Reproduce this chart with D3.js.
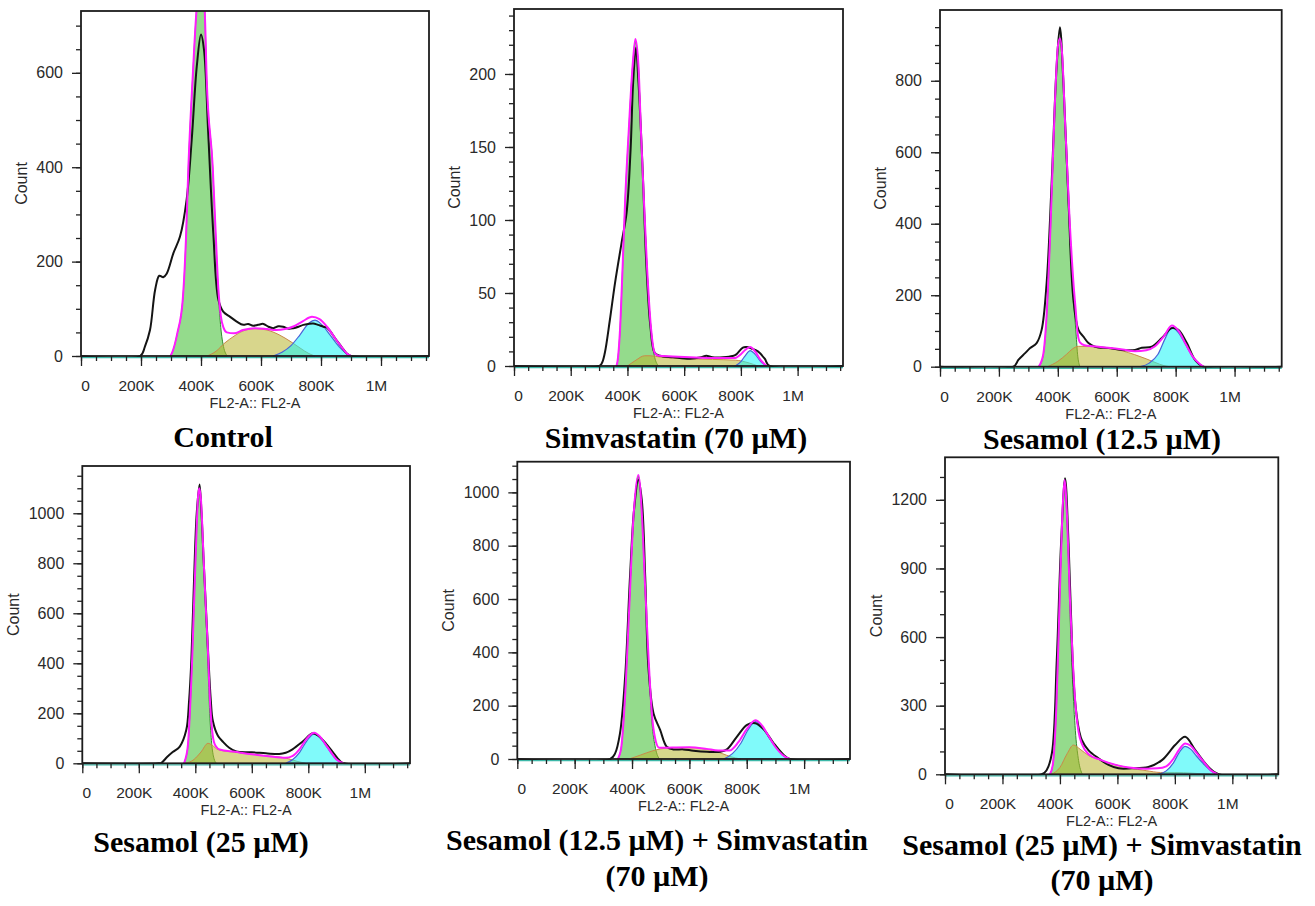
<!DOCTYPE html>
<html>
<head>
<meta charset="utf-8">
<title>Cell cycle histograms</title>
<script src="https://d3js.org/d3.v7.min.js"></script>
<style>
  body { margin: 0; background: #fff; }
  .tick text { font-family: "Liberation Sans", Arial, sans-serif; font-size: 16px; fill: #2a2a2a; }
  .x-ticks .tick text { font-size: 15.5px; }
  .axis-title { font-family: "Liberation Sans", Arial, sans-serif; font-size: 16px; fill: #2a2a2a; }
  .x-title { font-size: 14.5px; }
  .panel-title { font-family: "Liberation Serif", "Times New Roman", serif; font-weight: bold; font-size: 30px; fill: #000; }
</style>
</head>
<body>
<svg id="fig" width="1315" height="906"></svg>
<script>
// x values are FL2-A in thousands, y values are counts

const xTickValues = [0, 200, 400, 600, 800, 1000];
const xTickLabels = ["0", "200K", "400K", "600K", "800K", "1M"];
const xMax = 1160;

const titles = [
  ["Control"],
  ["Simvastatin (70 µM)"],
  ["Sesamol (12.5 µM)"],
  ["Sesamol (25 µM)"],
  ["Sesamol (12.5 µM) + Simvastatin", "(70 µM)"],
  ["Sesamol (25 µM) + Simvastatin", "(70 µM)"]
];

const yMaxes = [731, 244.5, 998, 1189, 1115, 1386];
const yMinorSteps = [50, 10, 50, 50, 50, 100];

const control_yticks = [0, 200, 400, 600];
const sim_yticks = [0, 50, 100, 150, 200];
const ses12_yticks = [0, 200, 400, 600, 800];
const ses25_yticks = [0, 200, 400, 600, 800, 1000];
const ses12sim_yticks = [0, 200, 400, 600, 800, 1000];
const ses25sim_yticks = [0, 300, 600, 900, 1200];

// Control
const control_raw = [[0,0],[197,0],[213,20],[230,55],[247,140],[261,170],[274,167],[286,175],[308,218],[330,253],[352,331],[369,458],[386,614],[400,681],[410,649],[424,473],[441,260],[458,119],[474,94],[497,83],[519,73],[541,66],[557,68],[574,64],[590,66],[608,68],[625,62],[641,59],[658,63],[674,62],[690,58],[708,59],[725,62],[741,66],[758,68],[774,69],[790,66],[808,62],[820,60],[850,35],[870,18],[885,6],[900,0],[1160,0]];
const control_g1 = [[298,0],[303,6],[321,48],[339,118],[350,250],[358,401],[372,587],[386,740],[395,790],[405,790],[412,740],[419,587],[439,401],[450,240],[458,130],[466,60],[475,20],[488,0]];
const control_s = [[420,0],[450,10],[480,28],[510,42],[540,53],[580,58],[620,55],[660,45],[700,30],[730,17],[760,5],[780,0]];
const control_g2 = [[640,0],[670,8],[700,22],[730,45],[760,70],[780,76],[800,68],[830,45],[860,20],[880,8],[900,0]];
const control_fit = [[298,0],[303,6],[321,48],[339,118],[350,250],[358,401],[372,587],[386,740],[395,790],[405,790],[412,740],[419,587],[439,401],[450,245],[458,140],[466,85],[475,60],[486,50],[510,48],[540,55],[580,59],[620,57],[650,55],[680,57],[710,63],[740,74],[770,83],[795,78],[820,62],[850,35],[870,18],[885,6],[900,0]];

// Simvastatin (70 µM)
const sim_raw = [[0,0],[300,0],[310,2],[320,8.7],[338,31.5],[356,56.6],[379,84],[397,105],[411,148],[420,194],[430,218],[439,194],[453,137],[467,68],[481,27],[496,9],[514,7],[561,6],[620,5],[660,6],[678,7],[700,6],[737,6],[771,6.8],[784,8],[807,12.6],[820,13],[837,12],[860,10],[884,5],[901,0],[1160,0]];
const sim_g1 = [[360,0],[364,2],[373,22],[383,68],[392,114],[404,159],[418,205],[428,222],[439,205],[448,159],[458,114],[469,68],[484,22],[496,6],[510,0]];
const sim_s = [[400,0],[430,4],[460,7],[480,7],[520,6],[600,5],[700,4.5],[780,4],[830,2],[860,0]];
const sim_g2 = [[780,0],[800,3],[815,7],[833,10.5],[850,8],[870,3],[890,0]];
const sim_fit = [[360,0],[364,2],[373,22],[383,68],[392,114],[404,159],[418,205],[428,224],[439,205],[448,159],[458,114],[469,68],[484,24],[496,9],[510,7],[560,6.5],[620,6],[700,5.5],[780,5.5],[800,8],[815,11],[833,13],[850,10],[870,4],[890,0]];

// Sesamol (12.5 µM)
const ses12_raw = [[0,0],[249,0],[266,19],[289,38],[306,52],[328,66],[345,103],[362,234],[379,515],[396,842],[407,950],[419,795],[436,468],[453,187],[470,103],[487,84],[504,66],[526,56],[572,52],[617,47],[662,47],[685,53],[719,56],[753,80],[787,108],[809,103],[838,66],[866,19],[894,0],[1160,0]];
const ses12_g1 = [[335,0],[350,30],[362,140],[375,380],[390,720],[400,880],[407,918],[415,860],[425,650],[440,380],[453,187],[461,103],[467,35],[475,0]];
const ses12_s = [[365,0],[400,15],[430,35],[450,50],[470,57],[520,56],[570,52],[620,44],[660,34],[700,22],[730,12],[760,3],[780,0]];
const ses12_g2 = [[680,0],[710,10],[740,35],[765,80],[787,110],[810,95],[835,60],[860,25],[880,8],[895,0]];
const ses12_fit = [[335,0],[350,32],[362,145],[375,390],[390,735],[400,895],[407,918],[415,870],[425,675],[440,410],[453,235],[461,155],[467,95],[475,68],[490,60],[520,57],[570,53],[620,48],[662,43],[700,46],[730,57],[760,85],[787,115],[810,100],[835,62],[860,26],[880,9],[895,0]];

// Sesamol (25 µM)
const ses25_raw = [[0,0],[270,0],[280,2],[300,25],[320,45],[345,67],[368,133],[378,250],[386,413],[396,750],[405,1000],[415,1115],[422,1000],[430,800],[441,546],[455,250],[462,170],[480,110],[497,87],[520,62],[545,47],[600,44],[650,40],[697,37],[720,42],[744,56],[780,87],[815,120],[835,110],[862,80],[890,40],[910,12],[925,0],[1160,0]];
const ses25_g1 = [[360,0],[364,13],[374,73],[389,413],[401,813],[410,1060],[414,1095],[420,1050],[429,813],[437,600],[444,413],[451,200],[458,80],[466,20],[475,0]];
const ses25_s = [[365,0],[395,15],[420,45],[445,80],[460,72],[480,55],[520,47],[580,40],[650,30],[700,25],[730,18],[760,8],[790,0]];
const ses25_g2 = [[720,0],[745,15],[770,45],[795,90],[821,118],[840,105],[860,75],[880,42],[900,15],[920,0]];
const ses25_fit = [[360,0],[364,13],[374,75],[389,420],[401,820],[410,1070],[414,1100],[420,1055],[429,830],[437,625],[444,470],[451,270],[458,150],[466,85],[475,65],[486,55],[540,46],[600,36],[660,28],[720,22],[745,30],[770,58],[795,100],[821,122],[840,108],[860,78],[880,45],[900,15],[925,0]];

// Sesamol (12.5 µM) + Simvastatin (70 µM)
const ses12sim_raw = [[0,0],[324,0],[341,21],[358,96],[376,309],[393,684],[407,934],[422,1047],[434,972],[446,684],[457,346],[475,171],[498,109],[521,46],[544,36],[579,36],[614,31],[661,27],[708,27],[731,36],[766,84],[801,128],[830,134],[859,111],[894,59],[929,15],[950,0],[1160,0]];
const ses12sim_g1 = [[350,0],[362,40],[375,220],[390,560],[405,900],[422,1060],[435,900],[445,650],[458,350],[470,130],[480,50],[495,0]];
const ses12sim_s = [[390,0],[430,15],[470,30],[500,38],[560,43],[620,42],[660,36],[700,26],[730,14],[760,4],[780,0]];
const ses12sim_g2 = [[720,0],[750,20],[780,60],[805,110],[830,140],[850,125],[875,85],[900,45],[925,15],[950,0]];
const ses12sim_fit = [[350,0],[362,40],[375,220],[390,560],[405,905],[422,1065],[435,905],[445,660],[458,370],[470,160],[480,80],[495,42],[540,43],[600,44],[660,38],[700,32],[740,32],[770,62],[800,112],[830,145],[850,130],[875,88],[900,45],[925,15],[950,0]];

// Sesamol (25 µM) + Simvastatin (70 µM)
const ses25sim_raw = [[0,0],[337,0],[354,19],[372,92],[389,500],[404,1010],[418,1294],[430,1010],[444,500],[452,330],[459,250],[467,190],[476,150],[499,106],[534,70],[569,41],[604,26],[650,26],[708,32],[755,62],[801,128],[836,164],[871,106],[917,32],[952,0],[1160,0]];
const ses25sim_g1 = [[365,0],[375,40],[388,300],[398,700],[408,1100],[416,1280],[425,1100],[435,700],[445,380],[455,170],[465,60],[478,0]];
const ses25sim_s = [[370,0],[400,30],[425,90],[447,128],[470,110],[500,82],[535,65],[570,50],[605,38],[640,28],[700,16],[750,8],[800,8],[860,5],[920,0]];
const ses25sim_g2 = [[740,0],[770,15],[795,50],[815,95],[836,122],[855,110],[875,80],[900,45],[925,15],[948,0]];
const ses25sim_fit = [[365,0],[375,40],[388,310],[398,720],[408,1120],[416,1287],[425,1120],[435,760],[445,490],[455,290],[465,185],[478,128],[500,88],[535,66],[570,50],[605,38],[640,30],[700,24],[740,26],[770,35],[795,68],[815,108],[836,135],[855,125],[875,95],[900,55],[925,18],[950,0]];

// plot boxes on the page (left, top, right, zero line)
const boxes = [
  {x0: 81,    y0: 11,    x1: 429,    y1: 356},
  {x0: 514,   y0: 9,     x1: 843,    y1: 366},
  {x0: 940,   y0: 10,    x1: 1281.7, y1: 366.7},
  {x0: 82.3,  y0: 466,   x1: 410,    y1: 763.3},
  {x0: 517.3, y0: 461.7, x1: 850,    y1: 759},
  {x0: 945,   y0: 457.3, x1: 1278.3, y1: 774.3}
];
// title centre and baselines
const titlePos = [
  {x: 223,  y: [447]},
  {x: 676,  y: [448]},
  {x: 1102, y: [449]},
  {x: 201,  y: [852]},
  {x: 657,  y: [850, 886]},
  {x: 1102, y: [855, 890]}
];

const panels = [
  {raw: control_raw,  g1: control_g1,  s: control_s,  g2: control_g2,  fit: control_fit,  yticks: control_yticks},
  {raw: sim_raw,      g1: sim_g1,      s: sim_s,      g2: sim_g2,      fit: sim_fit,      yticks: sim_yticks},
  {raw: ses12_raw,    g1: ses12_g1,    s: ses12_s,    g2: ses12_g2,    fit: ses12_fit,    yticks: ses12_yticks},
  {raw: ses25_raw,    g1: ses25_g1,    s: ses25_s,    g2: ses25_g2,    fit: ses25_fit,    yticks: ses25_yticks},
  {raw: ses12sim_raw, g1: ses12sim_g1, s: ses12sim_s, g2: ses12sim_g2, fit: ses12sim_fit, yticks: ses12sim_yticks},
  {raw: ses25sim_raw, g1: ses25sim_g1, s: ses25sim_s, g2: ses25sim_g2, fit: ses25sim_fit, yticks: ses25sim_yticks}
];

const svg = d3.select("#fig");

panels.forEach((p, i) => {
  const b = boxes[i];
  const yMax = yMaxes[i];
  const x = d3.scaleLinear().domain([0, xMax]).range([b.x0, b.x1]);
  const y = d3.scaleLinear().domain([0, yMax]).range([b.y1, b.y0]);
  const g = svg.append("g");

  g.append("clipPath").attr("id", "clip" + i).append("rect")
    .attr("x", b.x0).attr("y", b.y0)
    .attr("width", b.x1 - b.x0).attr("height", b.y1 - b.y0 + 1);

  const plot = g.append("g").attr("clip-path", `url(#clip${i})`);

  const area = d3.area().x(d => x(d[0])).y0(y(0)).y1(d => y(d[1])).curve(d3.curveMonotoneX);
  const line = d3.line().x(d => x(d[0])).y(d => y(d[1])).curve(d3.curveMonotoneX);
  const rawLine = d3.line().x(d => x(d[0])).y(d => y(d[1])).curve(d3.curveCatmullRom.alpha(0.5));

  // G1, S and G2 model components
  plot.append("path").datum(p.g1).attr("d", area)
    .attr("fill", "#3cbe2d").attr("fill-opacity", 0.55)
    .attr("stroke", "#2e8b2e").attr("stroke-width", 1);
  plot.append("path").datum(p.s).attr("d", area)
    .attr("fill", "#b8b42e").attr("fill-opacity", 0.55)
    .attr("stroke", "#c98a4a").attr("stroke-width", 1);
  plot.append("path").datum(p.g2).attr("d", area)
    .attr("fill", "#18f6f6").attr("fill-opacity", 0.55)
    .attr("stroke", "#4a62d8").attr("stroke-width", 1.2);

  // raw histogram then the fitted sum on top
  plot.append("path").datum(p.raw).attr("d", rawLine)
    .attr("fill", "none").attr("stroke", "#141414").attr("stroke-width", 2);
  plot.append("path").datum(p.fit).attr("d", line)
    .attr("fill", "none").attr("stroke", "#ff1cff").attr("stroke-width", 2);

  // teal baseline just under the box
  g.append("line")
    .attr("x1", b.x0).attr("x2", b.x1)
    .attr("y1", b.y1 + 1.6).attr("y2", b.y1 + 1.6)
    .attr("stroke", "#3cb8a8").attr("stroke-width", 1.4);

  // box
  g.append("rect")
    .attr("x", b.x0).attr("y", b.y0)
    .attr("width", b.x1 - b.x0).attr("height", b.y1 - b.y0)
    .attr("fill", "none").attr("stroke", "#1c1c1c").attr("stroke-width", 1.8);

  // y axis: minor then major
  const yMinor = d3.range(0, yMax + 0.001, yMinorSteps[i]);
  g.append("g").attr("transform", `translate(${b.x0},0)`)
    .call(d3.axisLeft(y).tickValues(yMinor).tickSize(5).tickFormat(""))
    .call(a => a.select(".domain").remove())
    .call(a => a.selectAll("line").attr("stroke", "#222").attr("stroke-width", 1.3));
  const yAx = g.append("g").attr("transform", `translate(${b.x0},0)`)
    .call(d3.axisLeft(y).tickValues(p.yticks).tickSize(9).tickPadding(9).tickFormat(d3.format("d")))
    .call(a => a.select(".domain").remove())
    .call(a => a.selectAll("line").attr("stroke", "#222").attr("stroke-width", 1.3));

  // x axis: minor then major
  const xMinor = d3.range(0, xMax + 0.001, 50);
  g.append("g").attr("transform", `translate(0,${b.y1})`)
    .call(d3.axisBottom(x).tickValues(xMinor).tickSize(5).tickFormat(""))
    .call(a => a.select(".domain").remove())
    .call(a => a.selectAll("line").attr("stroke", "#222").attr("stroke-width", 1.3));
  g.append("g").attr("class", "x-ticks").attr("transform", `translate(0,${b.y1})`)
    .call(d3.axisBottom(x).tickValues(xTickValues).tickSize(10).tickFormat((d, j) => xTickLabels[j]))
    .call(a => a.select(".domain").remove())
    .call(a => a.selectAll("line").attr("stroke", "#222").attr("stroke-width", 1.3))
    .call(a => a.selectAll("text").attr("y", 35).attr("dy", null)
                .attr("dx", d => d === 0 ? 4 : -5));

  // axis titles
  g.append("text").attr("class", "axis-title x-title")
    .attr("x", (b.x0 + b.x1) / 2).attr("y", b.y1 + 52)
    .attr("text-anchor", "middle").text("FL2-A:: FL2-A");

  let maxW = 0;
  yAx.selectAll("text").each(function() { maxW = Math.max(maxW, this.getComputedTextLength()); });
  const cx = b.x0 - maxW - 33, cy = (b.y0 + b.y1) / 2;
  g.append("text").attr("class", "axis-title")
    .attr("transform", `translate(${cx},${cy}) rotate(-90)`)
    .attr("text-anchor", "middle").attr("dy", "0.35em").text("Count");

  // panel title
  titles[i].forEach((t, k) => {
    g.append("text").attr("class", "panel-title")
      .attr("x", titlePos[i].x).attr("y", titlePos[i].y[k])
      .attr("text-anchor", "middle").text(t);
  });
});
</script>
</body>
</html>
